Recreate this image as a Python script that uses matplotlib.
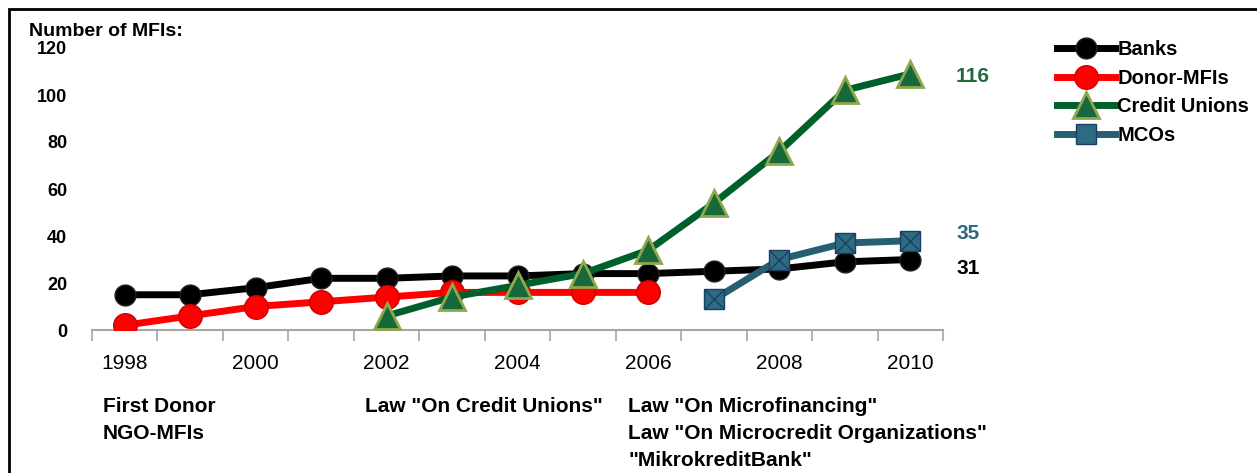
import matplotlib
matplotlib.use("Agg")
import matplotlib.pyplot as plt
from matplotlib.patches import Rectangle
import numpy as np

plt.rcParams['font.family'] = ['Liberation Sans Narrow', 'Liberation Sans', 'DejaVu Sans']

# data
years = ['1998', '1999', '2000', '2001', '2002', '2003', '2004',
         '2005', '2006', '2007', '2008', '2009', '2010']
banks = [15, 15, 18, 22, 22, 23, 23, 24, 24, 25, 26, 29, 30]
donor = [2, 6, 10, 12, 14, 16, 16, 16, 16]
credit = [6, 14, 19, 24, 34, 54, 76, 102, 109]
mcos = [13, 30, 37, 38]
end_labels = ['116', '35', '31']
yticks = [0, 20, 40, 60, 80, 100, 120]
events = ['First Donor\nNGO-MFIs',
          'Law "On Credit Unions"',
          'Law "On Microfinancing"\nLaw "On Microcredit Organizations"\n"MikrokreditBank"']

W, H = 1257, 473
fig = plt.figure(figsize=(W / 100, H / 100), dpi=100)
ax = fig.add_axes([92 / W, 1 - 330 / H, (943 - 92) / W, (330 - 48) / H])

x = np.arange(len(years))
green = '#00602b'
teal = '#275f72'

ax.plot(x, banks, color='black', lw=5, marker='o', ms=15,
        mfc='black', mec='#222222', label='Banks', zorder=3)
ax.plot(x[:len(donor)], donor, color='#ff0000', lw=5, marker='o', ms=17,
        mfc='#ff0000', mec='#d00000', label='Donor-MFIs', zorder=4)
ax.plot(x[4:4 + len(credit)], credit, color=green, lw=5, marker='^', ms=19,
        mfc='#17683a', mec='#8fa84e', mew=2, label='Credit Unions', zorder=5)
ax.plot(x[9:9 + len(mcos)], mcos, color=teal, lw=5, marker='s', ms=15,
        mfc='#2d6c80', mec='#1d3d66', mew=1, label='MCOs', zorder=6)
ax.plot(x[9:9 + len(mcos)], mcos, ls='none', marker='x', ms=14,
        mec='#1d3d66', mew=1, zorder=7)

ax.set_xlim(-0.5, len(years) - 0.5)
ax.set_ylim(0, 120)

for s in ['top', 'right', 'left']:
    ax.spines[s].set_visible(False)
ax.spines['bottom'].set_color('#a6a6a6')
ax.spines['bottom'].set_linewidth(1.5)

ax.set_xticks(np.arange(-0.5, len(years), 1))
ax.set_xticklabels([])
ax.tick_params(axis='x', which='major', length=8, width=1.2, color='#a6a6a6')
ax.set_xticks(x[::2], minor=True)
ax.set_xticklabels(years[::2], minor=True, fontsize=15)
ax.tick_params(axis='x', which='minor', length=0, pad=17)

ax.set_yticks(yticks)
ax.set_yticklabels([str(v) for v in yticks], fontsize=13, fontweight='bold')
ax.tick_params(axis='y', length=0, pad=18)

fig.text(29 / W, 1 - 31 / H, 'Number of MFIs:', fontsize=14, fontweight='bold',
         va='center', ha='left')

# end labels
ax.text(x[-1] + 0.7, 108, end_labels[0], color='#1e6b3a', fontsize=15,
        fontweight='bold', va='center')
ax.text(x[-1] + 0.7, 41, end_labels[1], color='#2b6a7d', fontsize=15,
        fontweight='bold', va='center')
ax.text(x[-1] + 0.7, 26, end_labels[2], color='black', fontsize=15,
        fontweight='bold', va='center')

leg = fig.legend(loc='upper left', bbox_to_anchor=(1047 / W, 1 - 30 / H),
                 frameon=False, fontsize=14.5, handlelength=2.9,
                 handletextpad=0.1, labelspacing=0.48, borderpad=0)
for t in leg.get_texts():
    t.set_fontweight('bold')

# event notes under the axis
fig.text(103 / W, 1 - 397 / H, events[0], fontsize=15, fontweight='bold',
         va='top', ha='left', linespacing=1.55)
fig.text(365 / W, 1 - 397 / H, events[1], fontsize=15, fontweight='bold',
         va='top', ha='left', linespacing=1.55)
fig.text(628 / W, 1 - 397 / H, events[2], fontsize=15, fontweight='bold',
         va='top', ha='left', linespacing=1.55)

# outer frame
fig.patches.append(Rectangle((9 / W, -0.1), 1.2, 1 - 9 / H + 0.1,
                             transform=fig.transFigure, fill=False,
                             edgecolor='black', lw=2))

fig.savefig('out.png', dpi=100)
